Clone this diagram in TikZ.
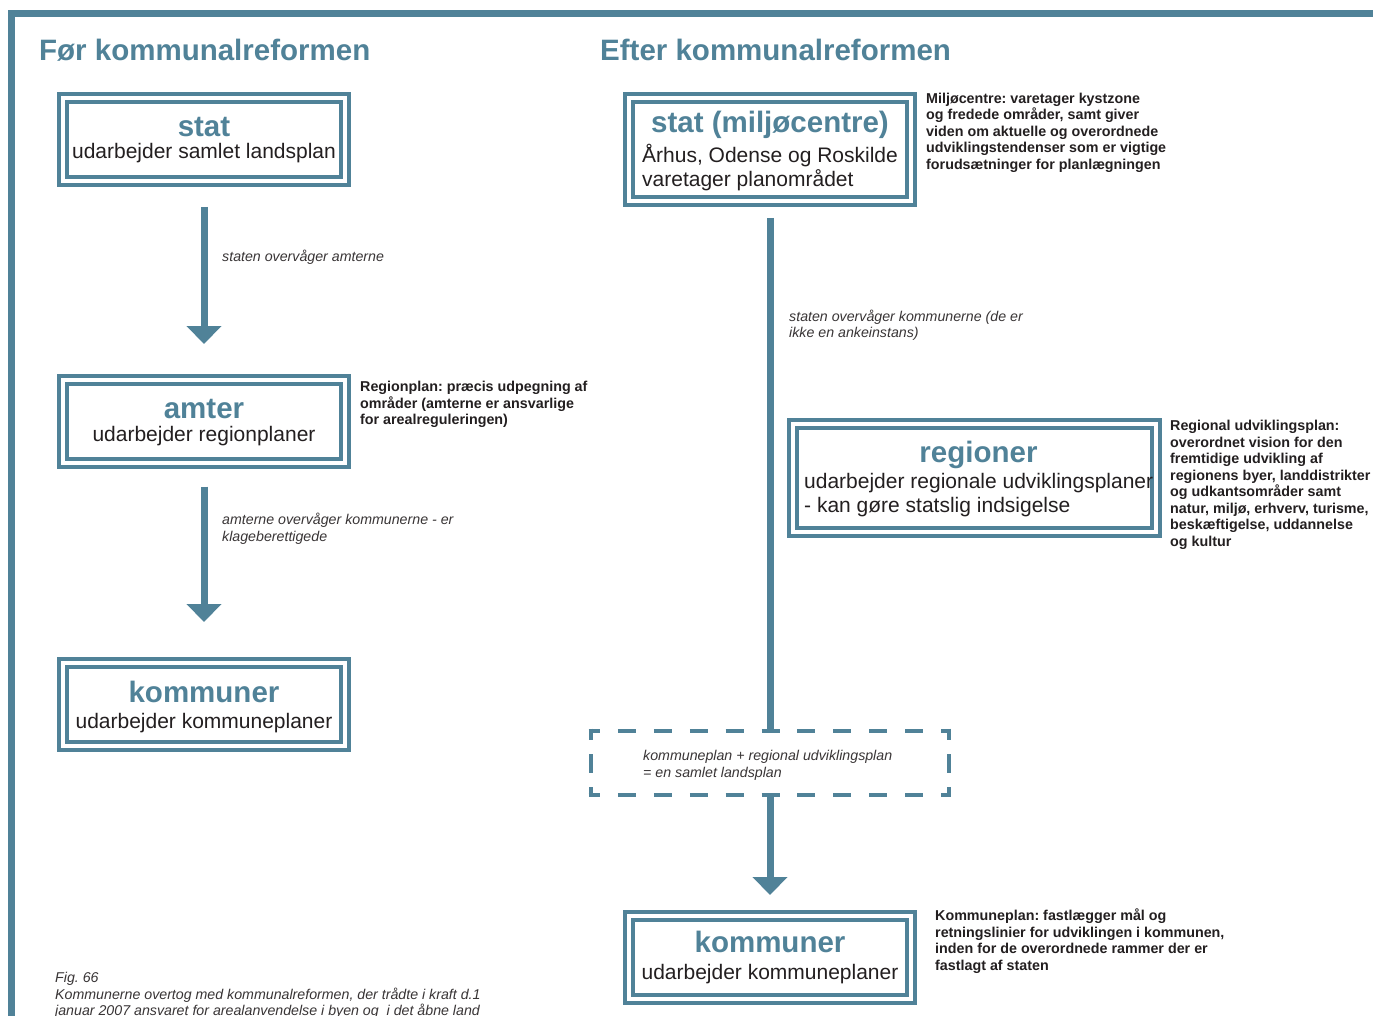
\documentclass[tikz,border=0pt]{standalone}
\usepackage{fontspec}
\setmainfont{Liberation Sans}
\usetikzlibrary{arrows.meta}
\definecolor{main}{RGB}{80,130,152}
\definecolor{ink}{RGB}{35,31,32}
\frenchspacing
\begin{document}
\begin{tikzpicture}[x=1pt,y=-1pt,
  heading/.style={font=\fontsize{29.5}{32}\selectfont\bfseries, text=main, inner sep=0pt},
  boxtext/.style={font=\fontsize{21}{24}\selectfont, text=ink, inner sep=0pt},
  note/.style={font=\fontsize{14.3}{16.5}\selectfont\bfseries, text=ink, align=left, anchor=north west, inner sep=0pt},
  itnote/.style={font=\fontsize{14.2}{16.6}\selectfont\itshape, text=ink!90, align=left, anchor=north west, inner sep=0pt},
  dbox/.style n args={2}{draw=main, line width=4pt, double=white, double distance=4pt, inner sep=0pt, minimum width=#1, minimum height=#2},
  outerframe/.style={draw=main, line width=7pt, line join=miter},
  flow/.style={draw=main, line width=7pt},
  arr/.style={flow, -{Triangle[length=18pt, width=34pt]}},
  dashh/.style={draw=main, line width=4.5pt, dash pattern=on 18pt off 17.9pt, dash phase=6.5pt},
  dashv/.style={draw=main, line width=4.5pt, dash pattern=on 19pt off 14pt, dash phase=7.5pt}
]
\useasboundingbox (0,0) rectangle (1373,1016);
\fill[white] (0,0) rectangle (1373,1016);

% frame
\draw[outerframe] (1380,13.5) -- (11.5,13.5) -- (11.5,1020);

% titles
\node[heading, anchor=base west] (tleft) at (39,61) {Før kommunalreformen};
\node[heading, anchor=base west] (tright) at (600,61) {Efter kommunalreformen};

% left boxes
\node[dbox={282pt}{83pt}] (lstat) at (204,139.5) {};
\node[dbox={282pt}{83pt}] (lamter) at (204,421.5) {};
\node[dbox={282pt}{83pt}] (lkomm) at (204,704.5) {};

\node[heading, anchor=base] (lstath) at (204,137) {stat};
\node[boxtext, anchor=base] (lstats) at (204,159) {udarbejder samlet landsplan};
\node[heading, anchor=base] (lamterh) at (204,418) {amter};
\node[boxtext, anchor=base] (lamters) at (204,441.5) {udarbejder regionplaner};
\node[heading, anchor=base] (lkommh) at (204,702) {kommuner};
\node[boxtext, anchor=base] (lkomms) at (204,728) {udarbejder kommuneplaner};

% left connectors
\draw[arr, shorten <=24pt, shorten >=34pt] (lstat) -- (lamter);
\draw[arr, shorten <=21.5pt, shorten >=39pt] (lamter) -- (lkomm);

\node[itnote] (lab1) at (222,250) {staten overvåger amterne};
\node[itnote] (lab2) at (222,513) {amterne overvåger kommunerne - er\\klageberettigede};
\node[note] (nregplan) at (360,381) {Regionplan: præcis udpegning af\\områder (amterne er ansvarlige\\for arealreguleringen)};

% caption
\node[itnote] (caption) at (55,972) {Fig. 66\\Kommunerne overtog med kommunalreformen, der trådte i kraft d.1\\januar 2007 ansvaret for arealanvendelse i byen og\ \ i det åbne land};

% right boxes
\node[dbox={282pt}{103pt}] (rstat) at (770,149.5) {};
\node[dbox={363pt}{108pt}] (rreg) at (974.5,478) {};
\node[dbox={282pt}{83pt}] (rkomm) at (770,957.5) {};

\node[heading, anchor=base] (rstath) at (770,133) {stat (miljøcentre)};
\node[boxtext, anchor=base west] (rstats1) at (642,162.5) {Århus, Odense og Roskilde};
\node[boxtext, anchor=base west] (rstats2) at (642,186.5) {varetager planområdet};

\node[heading, anchor=base] (rregh) at (978.5,462) {regioner};
\node[boxtext, anchor=base west] (rregs1) at (804,488) {udarbejder regionale udviklingsplaner};
\node[boxtext, anchor=base west] (rregs2) at (804,512) {- kan gøre statslig indsigelse};

\node[heading, anchor=base] (rkommh) at (770,952) {kommuner};
\node[boxtext, anchor=base] (rkomms) at (770,979) {udarbejder kommuneplaner};

% dashed plan box
\node[inner sep=0pt, minimum width=358pt, minimum height=64pt] (plan) at (770,763) {};
\node[itnote] (plantext) at (643,750.5) {kommuneplan + regional udviklingsplan\\= en samlet landsplan};
\draw[dashh] ([xshift=-2.25pt]plan.north west) -- ([xshift=2.25pt]plan.north east);
\draw[dashh] ([xshift=-2.25pt]plan.south west) -- ([xshift=2.25pt]plan.south east);
\draw[dashv] ([yshift=2.25pt]plan.north west) -- ([yshift=-2.25pt]plan.south west);
\draw[dashv] ([yshift=2.25pt]plan.north east) -- ([yshift=-2.25pt]plan.south east);

% right connectors
\draw[flow, shorten <=15pt] (rstat) -- (plan);
\draw[arr, shorten >=19pt] (plan) -- (rkomm);

\node[itnote] (lab3) at (789,309.5) {staten overvåger kommunerne (de er\\ikke en ankeinstans)};

% notes
\node[note] (nmiljo) at (926,92.5) {Miljøcentre: varetager kystzone\\og fredede områder, samt giver\\viden om aktuelle og overordnede\\udviklingstendenser som er vigtige\\forudsætninger for planlægningen};
\node[note] (nregudv) at (1170,420) {Regional udviklingsplan:\\overordnet vision for den\\fremtidige udvikling af\\regionens byer, landdistrikter\\og udkantsområder samt\\natur, miljø, erhverv, turisme,\\beskæftigelse, uddannelse\\og kultur};
\node[note] (nkomm) at (935,909) {Kommuneplan: fastlægger mål og\\retningslinier for udviklingen i kommunen,\\inden for de overordnede rammer der er\\fastlagt af staten};
\end{tikzpicture}
\end{document}
